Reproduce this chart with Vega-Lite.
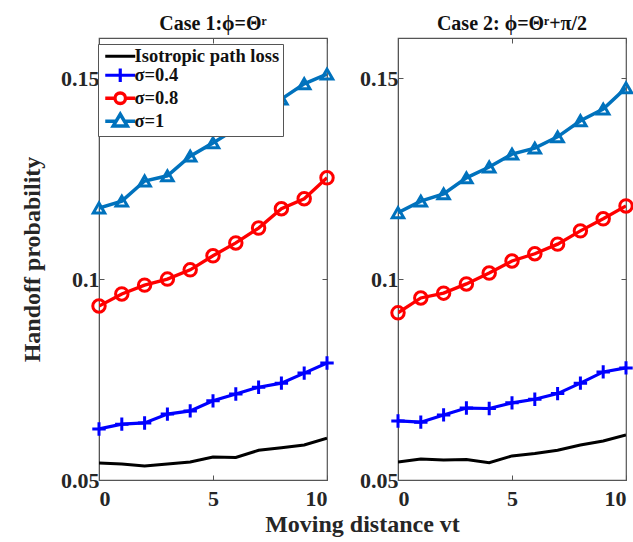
{
  "$schema": "https://vega.github.io/schema/vega-lite/v6.json",
  "padding": {"left": 19, "top": 12, "right": 5, "bottom": 5},
  "background": "white",
  "bounds": "flush",
  "spacing": 71,
  "config": {
    "font": "Liberation Serif",
    "view": {"stroke": "#555", "strokeWidth": 1.2},
    "axis": {"domainColor": "#555", "tickColor": "#555", "tickSize": -5, "grid": false},
    "title": {"font": "Liberation Serif", "fontWeight": "bold", "fontSize": 20, "color": "#111", "offset": 4}
  },
  "data": {"values": [
    {"c": "Case 1", "s": "Isotropic path loss", "x": 0, "y": 0.0542},
    {"c": "Case 1", "s": "Isotropic path loss", "x": 1, "y": 0.0540},
    {"c": "Case 1", "s": "Isotropic path loss", "x": 2, "y": 0.0535},
    {"c": "Case 1", "s": "Isotropic path loss", "x": 3, "y": 0.0540},
    {"c": "Case 1", "s": "Isotropic path loss", "x": 4, "y": 0.0545},
    {"c": "Case 1", "s": "Isotropic path loss", "x": 5, "y": 0.0557},
    {"c": "Case 1", "s": "Isotropic path loss", "x": 6, "y": 0.0556},
    {"c": "Case 1", "s": "Isotropic path loss", "x": 7, "y": 0.0574},
    {"c": "Case 1", "s": "Isotropic path loss", "x": 8, "y": 0.0580},
    {"c": "Case 1", "s": "Isotropic path loss", "x": 9, "y": 0.0587},
    {"c": "Case 1", "s": "Isotropic path loss", "x": 10, "y": 0.0604},
    {"c": "Case 1", "s": "σ=0.4", "x": 0, "y": 0.0627},
    {"c": "Case 1", "s": "σ=0.4", "x": 1, "y": 0.0639},
    {"c": "Case 1", "s": "σ=0.4", "x": 2, "y": 0.0642},
    {"c": "Case 1", "s": "σ=0.4", "x": 3, "y": 0.0664},
    {"c": "Case 1", "s": "σ=0.4", "x": 4, "y": 0.0672},
    {"c": "Case 1", "s": "σ=0.4", "x": 5, "y": 0.0697},
    {"c": "Case 1", "s": "σ=0.4", "x": 6, "y": 0.0714},
    {"c": "Case 1", "s": "σ=0.4", "x": 7, "y": 0.0731},
    {"c": "Case 1", "s": "σ=0.4", "x": 8, "y": 0.0741},
    {"c": "Case 1", "s": "σ=0.4", "x": 9, "y": 0.0766},
    {"c": "Case 1", "s": "σ=0.4", "x": 10, "y": 0.0791},
    {"c": "Case 1", "s": "σ=0.8", "x": 0, "y": 0.0933},
    {"c": "Case 1", "s": "σ=0.8", "x": 1, "y": 0.0963},
    {"c": "Case 1", "s": "σ=0.8", "x": 2, "y": 0.0985},
    {"c": "Case 1", "s": "σ=0.8", "x": 3, "y": 0.1000},
    {"c": "Case 1", "s": "σ=0.8", "x": 4, "y": 0.1023},
    {"c": "Case 1", "s": "σ=0.8", "x": 5, "y": 0.1058},
    {"c": "Case 1", "s": "σ=0.8", "x": 6, "y": 0.1090},
    {"c": "Case 1", "s": "σ=0.8", "x": 7, "y": 0.1127},
    {"c": "Case 1", "s": "σ=0.8", "x": 8, "y": 0.1175},
    {"c": "Case 1", "s": "σ=0.8", "x": 9, "y": 0.1200},
    {"c": "Case 1", "s": "σ=0.8", "x": 10, "y": 0.1252},
    {"c": "Case 1", "s": "σ=1", "x": 0, "y": 0.1177},
    {"c": "Case 1", "s": "σ=1", "x": 1, "y": 0.1194},
    {"c": "Case 1", "s": "σ=1", "x": 2, "y": 0.1244},
    {"c": "Case 1", "s": "σ=1", "x": 3, "y": 0.1257},
    {"c": "Case 1", "s": "σ=1", "x": 4, "y": 0.1306},
    {"c": "Case 1", "s": "σ=1", "x": 5, "y": 0.1339},
    {"c": "Case 1", "s": "σ=1", "x": 6, "y": 0.1374},
    {"c": "Case 1", "s": "σ=1", "x": 7, "y": 0.1405},
    {"c": "Case 1", "s": "σ=1", "x": 8, "y": 0.1448},
    {"c": "Case 1", "s": "σ=1", "x": 9, "y": 0.1486},
    {"c": "Case 1", "s": "σ=1", "x": 10, "y": 0.1510},
    {"c": "Case 2", "s": "Isotropic path loss", "x": 0, "y": 0.0545},
    {"c": "Case 2", "s": "Isotropic path loss", "x": 1, "y": 0.0552},
    {"c": "Case 2", "s": "Isotropic path loss", "x": 2, "y": 0.0550},
    {"c": "Case 2", "s": "Isotropic path loss", "x": 3, "y": 0.0551},
    {"c": "Case 2", "s": "Isotropic path loss", "x": 4, "y": 0.0543},
    {"c": "Case 2", "s": "Isotropic path loss", "x": 5, "y": 0.0560},
    {"c": "Case 2", "s": "Isotropic path loss", "x": 6, "y": 0.0566},
    {"c": "Case 2", "s": "Isotropic path loss", "x": 7, "y": 0.0574},
    {"c": "Case 2", "s": "Isotropic path loss", "x": 8, "y": 0.0587},
    {"c": "Case 2", "s": "Isotropic path loss", "x": 9, "y": 0.0597},
    {"c": "Case 2", "s": "Isotropic path loss", "x": 10, "y": 0.0612},
    {"c": "Case 2", "s": "σ=0.4", "x": 0, "y": 0.0647},
    {"c": "Case 2", "s": "σ=0.4", "x": 1, "y": 0.0644},
    {"c": "Case 2", "s": "σ=0.4", "x": 2, "y": 0.0662},
    {"c": "Case 2", "s": "σ=0.4", "x": 3, "y": 0.0679},
    {"c": "Case 2", "s": "σ=0.4", "x": 4, "y": 0.0678},
    {"c": "Case 2", "s": "σ=0.4", "x": 5, "y": 0.0692},
    {"c": "Case 2", "s": "σ=0.4", "x": 6, "y": 0.0701},
    {"c": "Case 2", "s": "σ=0.4", "x": 7, "y": 0.0715},
    {"c": "Case 2", "s": "σ=0.4", "x": 8, "y": 0.0741},
    {"c": "Case 2", "s": "σ=0.4", "x": 9, "y": 0.0769},
    {"c": "Case 2", "s": "σ=0.4", "x": 10, "y": 0.0779},
    {"c": "Case 2", "s": "σ=0.8", "x": 0, "y": 0.0916},
    {"c": "Case 2", "s": "σ=0.8", "x": 1, "y": 0.0953},
    {"c": "Case 2", "s": "σ=0.8", "x": 2, "y": 0.0965},
    {"c": "Case 2", "s": "σ=0.8", "x": 3, "y": 0.0988},
    {"c": "Case 2", "s": "σ=0.8", "x": 4, "y": 0.1015},
    {"c": "Case 2", "s": "σ=0.8", "x": 5, "y": 0.1045},
    {"c": "Case 2", "s": "σ=0.8", "x": 6, "y": 0.1063},
    {"c": "Case 2", "s": "σ=0.8", "x": 7, "y": 0.1087},
    {"c": "Case 2", "s": "σ=0.8", "x": 8, "y": 0.1120},
    {"c": "Case 2", "s": "σ=0.8", "x": 9, "y": 0.1150},
    {"c": "Case 2", "s": "σ=0.8", "x": 10, "y": 0.1182},
    {"c": "Case 2", "s": "σ=1", "x": 0, "y": 0.1165},
    {"c": "Case 2", "s": "σ=1", "x": 1, "y": 0.1194},
    {"c": "Case 2", "s": "σ=1", "x": 2, "y": 0.1212},
    {"c": "Case 2", "s": "σ=1", "x": 3, "y": 0.1252},
    {"c": "Case 2", "s": "σ=1", "x": 4, "y": 0.1279},
    {"c": "Case 2", "s": "σ=1", "x": 5, "y": 0.1311},
    {"c": "Case 2", "s": "σ=1", "x": 6, "y": 0.1326},
    {"c": "Case 2", "s": "σ=1", "x": 7, "y": 0.1354},
    {"c": "Case 2", "s": "σ=1", "x": 8, "y": 0.1394},
    {"c": "Case 2", "s": "σ=1", "x": 9, "y": 0.1423},
    {"c": "Case 2", "s": "σ=1", "x": 10, "y": 0.1476}
  ]},
  "hconcat": [
    {
      "width": 228, "height": 442,
      "title": {"text": "Case 1:ϕ=Θʳ"},
      "transform": [{"filter": "datum.c === 'Case 1'"}],
      "resolve": {"axis": {"x": "independent", "y": "independent"}},
      "layer": [
        {
          "mark": {"type": "line", "clip": true},
          "encoding": {
            "x": {"field": "x", "type": "quantitative", "scale": {"domain": [0, 10], "nice": false},
                  "axis": {"values": [0, 5, 10], "title": "Moving distance vt", "titleX": 263, "titlePadding": 3, "labelPadding": 13,
                           "labelFont": "Liberation Serif", "labelFontWeight": "bold", "labelFontSize": 22, "labelColor": "#262626",
                           "titleFont": "Liberation Serif", "titleFontWeight": "bold", "titleFontSize": 24, "titleColor": "#262626"}},
            "y": {"field": "y", "type": "quantitative", "scale": {"domain": [0.05, 0.16], "nice": false, "zero": false},
                  "axis": {"values": [0.05, 0.1, 0.15], "format": ".2~f", "title": "Handoff probability", "titlePadding": 16, "labelPadding": 5,
                           "labelFont": "Liberation Serif", "labelFontWeight": "bold", "labelFontSize": 22, "labelColor": "#262626",
                           "titleFont": "Liberation Serif", "titleFontWeight": "bold", "titleFontSize": 24, "titleColor": "#262626"}},
            "color": {"field": "s", "type": "nominal",
                      "scale": {"domain": ["Isotropic path loss", "σ=0.4", "σ=0.8", "σ=1"], "range": ["#000000", "#0000FF", "#FF0000", "#0072BD"]},
                      "legend": {"title": null, "orient": "none", "legendX": -1, "legendY": 6,
                                 "strokeColor": "#555", "fillColor": "white", "padding": 3,
                                 "symbolSize": 100, "symbolStrokeWidth": 3, "symbolFillColor": "transparent", "symbolType": "stroke",
                                 "symbolOffset": 10, "rowPadding": -4, "labelOffset": 5,
                                 "labelFont": "Liberation Serif", "labelFontWeight": "bold", "labelFontSize": 18.5, "labelColor": "#111",
                                 "encode": {"symbols": {"update": {"shape": {"signal": "datum.value === 'σ=0.4' ? 'M-3,0H3M0,-1.35V1.35M-1.35,0H1.35' : datum.value === 'σ=0.8' ? 'M-3,0H-1.05M1.05,0H3M-1.05,0A1.05,1.05 0 1,1 1.05,0A1.05,1.05 0 1,1 -1.05,0' : datum.value === 'σ=1' ? 'M-3,0H-0.8M0.8,0H3M0,-1.4L1.4,0.93L-1.4,0.93Z' : 'M-3,0H3'"}, "fill": {"value": "transparent"}}}}}},
            "strokeWidth": {"field": "s", "type": "nominal", "scale": {"domain": ["Isotropic path loss", "σ=0.4", "σ=0.8", "σ=1"], "range": [3, 3.5, 2.5, 3]}, "legend": null}
          }
        },
        {
          "transform": [{"filter": "datum.s !== 'Isotropic path loss'"}],
          "mark": {"type": "point", "filled": false, "strokeWidth": 3, "opacity": 1},
          "encoding": {
            "x": {"field": "x", "type": "quantitative", "axis": null},
            "y": {"field": "y", "type": "quantitative", "axis": null},
            "color": {"field": "s", "type": "nominal", "legend": null},
            "shape": {"field": "s", "type": "nominal", "scale": {"domain": ["σ=0.4", "σ=0.8", "σ=1"], "range": ["M-1,0H1M0,-1V1", "circle", "triangle-up"]}, "legend": null},
            "size": {"field": "s", "type": "nominal", "scale": {"domain": ["σ=0.4", "σ=0.8", "σ=1"], "range": [180, 130, 270]}, "legend": null}
          }
        },
        {
          "mark": {"type": "point", "opacity": 0},
          "encoding": {
            "x": {"field": "x", "type": "quantitative", "axis": {"orient": "top", "values": [0, 5, 10], "labels": false, "title": null, "domain": false}},
            "y": {"field": "y", "type": "quantitative", "axis": {"orient": "right", "values": [0.05, 0.1, 0.15], "labels": false, "title": null, "domain": false}}
          }
        }
      ]
    },
    {
      "width": 228, "height": 442,
      "title": {"text": "Case 2: ϕ=Θʳ+π/2"},
      "transform": [{"filter": "datum.c === 'Case 2'"}],
      "resolve": {"axis": {"x": "independent", "y": "independent"}},
      "layer": [
        {
          "mark": {"type": "line", "clip": true},
          "encoding": {
            "x": {"field": "x", "type": "quantitative", "scale": {"domain": [0, 10], "nice": false},
                  "axis": {"values": [0, 5, 10], "title": null, "labelPadding": 13,
                           "labelFont": "Liberation Serif", "labelFontWeight": "bold", "labelFontSize": 22, "labelColor": "#262626"}},
            "y": {"field": "y", "type": "quantitative", "scale": {"domain": [0.05, 0.16], "nice": false, "zero": false},
                  "axis": {"values": [0.05, 0.1, 0.15], "format": ".2~f", "title": null, "labelPadding": 5,
                           "labelFont": "Liberation Serif", "labelFontWeight": "bold", "labelFontSize": 22, "labelColor": "#262626"}},
            "color": {"field": "s", "type": "nominal", "legend": null},
            "strokeWidth": {"field": "s", "type": "nominal", "legend": null}
          }
        },
        {
          "transform": [{"filter": "datum.s !== 'Isotropic path loss'"}],
          "mark": {"type": "point", "filled": false, "strokeWidth": 3, "opacity": 1},
          "encoding": {
            "x": {"field": "x", "type": "quantitative", "axis": null},
            "y": {"field": "y", "type": "quantitative", "axis": null},
            "color": {"field": "s", "type": "nominal", "legend": null},
            "shape": {"field": "s", "type": "nominal", "legend": null},
            "size": {"field": "s", "type": "nominal", "legend": null}
          }
        },
        {
          "mark": {"type": "point", "opacity": 0},
          "encoding": {
            "x": {"field": "x", "type": "quantitative", "axis": {"orient": "top", "values": [0, 5, 10], "labels": false, "title": null, "domain": false}},
            "y": {"field": "y", "type": "quantitative", "axis": {"orient": "right", "values": [0.05, 0.1, 0.15], "labels": false, "title": null, "domain": false}}
          }
        }
      ]
    }
  ]
}
